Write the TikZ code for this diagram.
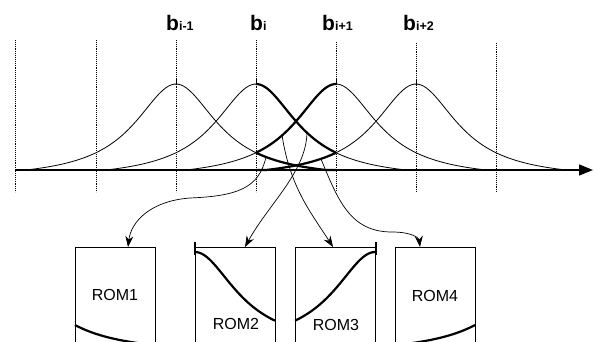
\documentclass[tikz,border=0pt]{standalone}
\usepackage{fontspec}
\setmainfont{Liberation Sans}
\usetikzlibrary{arrows.meta,calc}
\begin{document}
\begin{tikzpicture}[x=1pt,y=-1pt,
  declare function={h(\t)=86*max(0,1/(1+(\t/50)^2)-0.1)/0.9;},
  curve/.style={line width=0.8pt},
  thickcurve/.style={line width=2.2pt},
  guide/.style={densely dotted, line width=0.9pt},
  peaktick/.style={line width=1pt},
  axisline/.style={line width=1.4pt, -{Triangle[length=14pt,width=11pt]}},
  rombox/.style={draw, line width=0.9pt, minimum width=80pt, minimum height=120pt, anchor=north west, inner sep=0pt},
  romtext/.style={font=\fontsize{16}{16}\selectfont, inner sep=0pt},
  blabel/.style={anchor=base west, inner sep=0pt},
  link/.style={line width=0.7pt, -{Stealth[length=11pt,width=8pt]}},
  romtick/.style={line width=1.6pt}
]
\useasboundingbox (0,0) rectangle (594,342);
\clip (0,0) rectangle (594,342);

% dotted guides
\foreach \xx/\tp in {15/40, 96/40, 176/40, 256/40, 336/42, 416/43, 496/43}
  \draw[guide] (\xx,\tp) -- (\xx,192);

% labels
\node[blabel] (lb1) at (166,31) {\textbf{\fontsize{21}{21}\selectfont b}\textbf{\fontsize{12.5}{12.5}\selectfont i-1}};
\node[blabel] (lb2) at (250,31) {\textbf{\fontsize{21}{21}\selectfont b}\textbf{\fontsize{12.5}{12.5}\selectfont i}};
\node[blabel] (lb3) at (322,31) {\textbf{\fontsize{21}{21}\selectfont b}\textbf{\fontsize{12.5}{12.5}\selectfont i+1}};
\node[blabel] (lb4) at (403,31) {\textbf{\fontsize{21}{21}\selectfont b}\textbf{\fontsize{12.5}{12.5}\selectfont i+2}};

% axis
\coordinate (axs) at (15,170);
\coordinate (axe) at (593,170);
\draw[axisline] (axs) -- (axe);

% curves
\foreach \c in {176,256,336,416}{
  \draw[curve] plot[domain={\c-150}:{\c+150}, samples=100, smooth] (\x,{170-h(\x-\c)});
  \draw[thickcurve] plot[domain=256:336, samples=40, smooth] (\x,{170-h(\x-\c)});
  \draw[peaktick] (\c,79) -- (\c,85);
}

% ROM boxes
\node[rombox] (rom1) at (75,247) {};
\node[rombox] (rom2) at (195,247) {};
\node[rombox] (rom3) at (295,247) {};
\node[rombox] (rom4) at (395,247) {};
\node[romtext] (t1) at (115,295) {ROM1};
\node[romtext] (t2) at (236,324) {ROM2};
\node[romtext] (t3) at (336,325) {ROM3};
\node[romtext] (t4) at (435,296) {ROM4};
\draw[romtick] (rom2.north west) ++(0,-5) -- ++(0,13);
\draw[romtick] (rom3.north east) ++(0,-5) -- ++(0,13);

% ROM contents
\draw[thickcurve] plot[domain=256:336, samples=40, smooth] ({\x-181},{325+1.1*(17.3-h(\x-176))});
\draw[thickcurve] plot[domain=256:336, samples=40, smooth] ({\x-61},{338-h(\x-256)});
\draw[thickcurve] plot[domain=256:336, samples=40, smooth] ({\x+39},{338-h(\x-336)});
\draw[thickcurve] plot[domain=256:336, samples=40, smooth] ({\x+139},{325+1.1*(17.3-h(\x-416))});

% arrows
\coordinate (s1) at (266,157);
\coordinate (s2) at (307,133);
\coordinate (s3) at (282,135);
\coordinate (s4) at (321,159);
\coordinate (e1) at (128,247);
\coordinate (e2) at (245,247);
\coordinate (e3) at (333,247);
\coordinate (e4) at (420,247);
\draw[link] (s1) .. controls (259,188) and (238,196) .. (190,198) .. controls (150,201) and (131,222) .. (e1);
\draw[link] (s2) .. controls (306,172) and (268,205) .. (e2);
\draw[link] (s3) .. controls (290,188) and (312,214) .. (e3);
\draw[link] (s4) .. controls (338,200) and (350,232) .. (392,232) .. controls (412,232) and (419,238) .. (e4);
\end{tikzpicture}
\end{document}
